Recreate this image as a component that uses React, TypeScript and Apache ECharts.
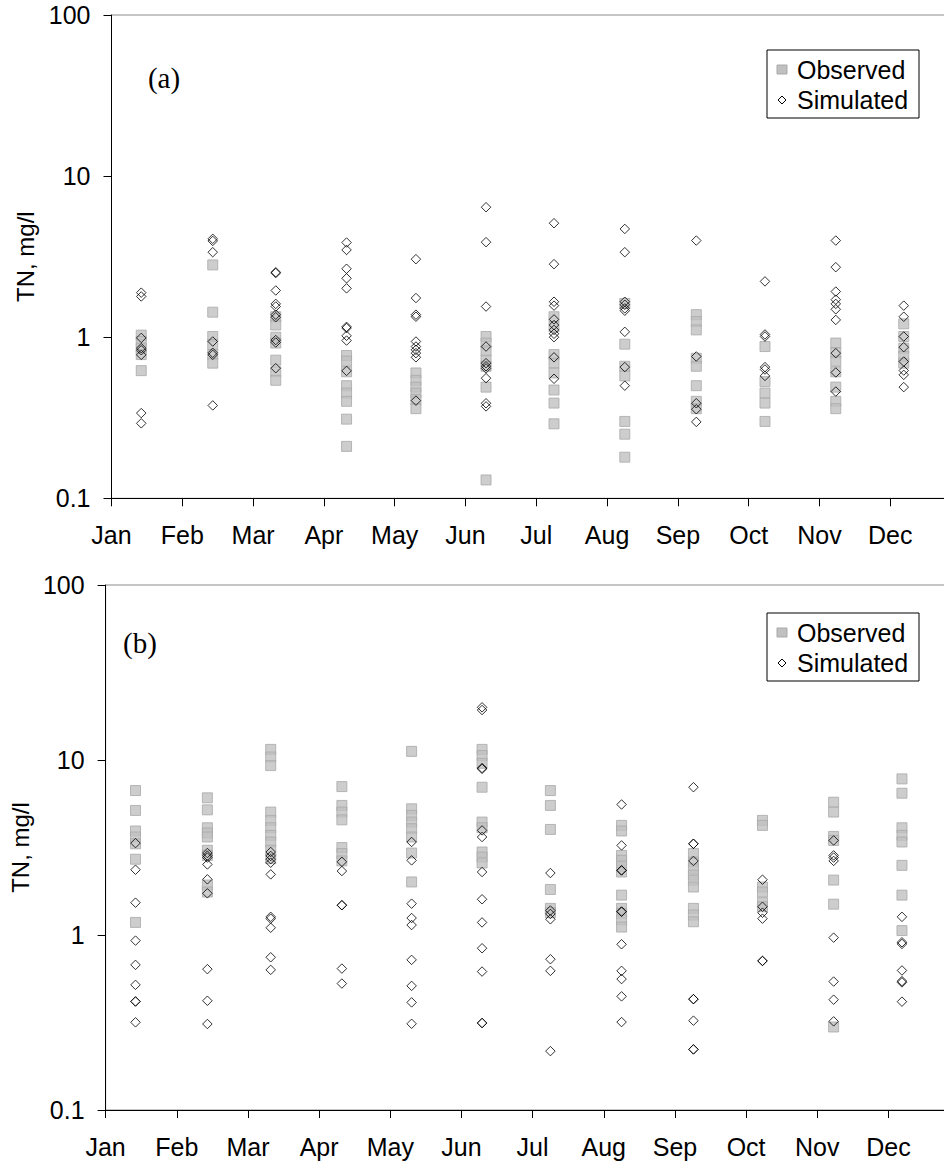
import React, { useEffect, useRef } from "react";
import * as echarts from "echarts";

// ---------- data ----------
const months = ["Jan", "Feb", "Mar", "Apr", "May", "Jun", "Jul", "Aug", "Sep", "Oct", "Nov", "Dec"];
// sampling position of each month's values, in month units from Jan 1
const sampleMonthPos = [0.42, 1.43, 2.32, 3.32, 4.3, 5.29, 6.25, 7.25, 8.26, 9.23, 10.23, 11.19];
const yTicks = [0.1, 1, 10, 100];

// panel (a)
const observedA = [
  [1.03, 0.94, 0.855, 0.78, 0.62],
  [2.81, 1.43, 1.01, 0.9, 0.78, 0.69],
  [1.34, 1.19, 1.0, 0.92, 0.72, 0.61, 0.54],
  [0.77, 0.71, 0.61, 0.5, 0.45, 0.4, 0.31, 0.21],
  [0.6, 0.54, 0.49, 0.45, 0.41, 0.36],
  [1.01, 0.92, 0.82, 0.72, 0.66, 0.49, 0.13],
  [1.34, 1.16, 0.78, 0.69, 0.6, 0.47, 0.39, 0.29],
  [1.62, 0.905, 0.66, 0.575, 0.3, 0.25, 0.18],
  [1.38, 1.25, 1.11, 0.74, 0.66, 0.5, 0.4, 0.36],
  [0.875, 0.53, 0.45, 0.39, 0.3],
  [0.92, 0.8, 0.71, 0.61, 0.49, 0.4, 0.36],
  [1.21, 1.01, 0.855, 0.76, 0.69],
];
const simulatedA = [
  [1.89, 1.79, 0.99, 0.855, 0.83, 0.777, 0.338, 0.292],
  [4.08, 3.96, 3.37, 0.94, 0.8, 0.777, 0.377],
  [2.53, 2.5, 1.95, 1.61, 1.55, 1.38, 1.33, 0.96, 0.927, 0.642],
  [3.87, 3.48, 2.66, 2.32, 2.01, 1.16, 1.14, 1.02, 0.953, 0.618],
  [3.05, 1.75, 1.38, 1.34, 0.94, 0.875, 0.835, 0.796, 0.75, 0.404],
  [6.41, 3.89, 1.55, 0.875, 0.69, 0.66, 0.64, 0.557, 0.389, 0.372],
  [5.1, 2.84, 1.66, 1.57, 1.29, 1.19, 1.11, 1.05, 1.0, 0.75, 0.552],
  [4.7, 3.37, 1.66, 1.59, 1.51, 1.46, 1.08, 0.652, 0.5],
  [3.98, 0.759, 0.389, 0.357, 0.298],
  [2.22, 1.04, 1.01, 0.652, 0.63, 0.575],
  [3.98, 2.72, 1.92, 1.71, 1.61, 1.49, 1.28, 0.796, 0.604, 0.46],
  [1.57, 1.34, 1.01, 0.867, 0.706, 0.621, 0.584, 0.49],
];

// panel (b)
const observedB = [
  [6.69, 5.15, 3.93, 3.63, 3.32, 2.71, 1.18],
  [6.08, 5.19, 4.1, 3.83, 3.63, 3.05, 2.85, 1.93, 1.76],
  [11.5, 10.4, 9.29, 5.04, 4.52, 4.1, 3.71, 3.4, 3.05, 2.73],
  [7.05, 5.5, 5.04, 4.55, 3.16, 2.92, 2.65],
  [11.2, 5.26, 4.82, 4.42, 4.05, 3.63, 2.94, 2.01],
  [11.5, 10.6, 9.57, 6.99, 4.42, 4.1, 2.98, 2.79, 2.58],
  [6.69, 5.5, 4.01, 1.82, 1.42, 1.34],
  [4.23, 3.93, 2.85, 2.67, 2.47, 2.29, 1.69, 1.42, 1.33, 1.22, 1.11],
  [2.92, 2.61, 2.39, 2.2, 2.06, 1.88, 1.42, 1.3, 1.19],
  [4.52, 4.23, 1.88, 1.76, 1.53, 1.45],
  [5.74, 5.04, 3.66, 3.47, 2.06, 1.5, 0.298],
  [7.8, 6.46, 4.1, 3.71, 3.4, 2.5, 1.69, 1.06],
];
const simulatedB = [
  [3.35, 2.36, 1.53, 0.929, 0.675, 0.519, 0.417, 0.417, 0.317],
  [2.94, 2.84, 2.77, 2.53, 2.08, 1.73, 0.638, 0.421, 0.31],
  [2.98, 2.83, 2.71, 2.59, 2.22, 1.27, 1.24, 1.1, 0.746, 0.632],
  [2.62, 2.32, 1.48, 1.48, 0.643, 0.528],
  [3.4, 2.67, 1.51, 1.25, 1.14, 0.721, 0.512, 0.412, 0.311],
  [20.0, 19.3, 9.0, 8.9, 3.96, 3.63, 2.29, 1.6, 1.18, 0.84, 0.618, 0.314, 0.314],
  [2.26, 1.38, 1.32, 1.23, 0.727, 0.624, 0.217],
  [5.57, 3.25, 2.34, 2.34, 1.36, 1.36, 0.885, 0.624, 0.56, 0.446, 0.318],
  [6.99, 3.32, 3.32, 2.65, 0.43, 0.43, 0.324, 0.222, 0.222],
  [2.07, 1.45, 1.34, 1.24, 0.711, 0.711],
  [3.47, 2.85, 2.77, 2.65, 0.966, 0.542, 0.427, 0.321],
  [1.27, 0.909, 0.889, 0.627, 0.545, 0.536, 0.416],
];

const panelLabels = ["(a)", "(b)"];
const legendNames = ["Observed", "Simulated"];

// ---------- helpers ----------
function toPoints(groups: number[][]) {
  const pts: number[][] = [];
  groups.forEach((vals, i) => vals.forEach((v) => pts.push([sampleMonthPos[i], v])));
  return pts;
}

function fmtY(v: number) {
  const match = yTicks.find((t) => Math.abs(Math.log10(t) - Math.log10(v)) < 1e-6);
  return match !== undefined ? String(match) : "";
}

const SANS = '"Liberation Sans", Arial, sans-serif';
const SERIF = '"Liberation Serif", "Times New Roman", serif';

const grids = [
  { left: 111.5, top: 15, width: 849.6, height: 483.3 },
  { left: 98, top: 585, width: 861.6, height: 525 },
];
const nameGaps = [68, 55];
const legendBoxes = [
  { x: 767, y: 50 },
  { x: 767, y: 613 },
];
const labelPos = [
  { x: 164, y: 78 },
  { x: 140, y: 643 },
];

function legendGraphic(x: number, y: number) {
  return {
    type: "group",
    children: [
      { type: "rect", shape: { x: x, y: y, width: 152, height: 68 }, style: { fill: "#fff", stroke: "#000", lineWidth: 1 } },
      { type: "rect", shape: { x: x + 10, y: y + 15, width: 10, height: 9 }, style: { fill: "#c0c0c0", stroke: "#a9a9a9", lineWidth: 1 } },
      {
        type: "polygon",
        shape: { points: [[x + 15, y + 46], [x + 19, y + 50], [x + 15, y + 54], [x + 11, y + 50]] },
        style: { fill: "#fff", stroke: "#000", lineWidth: 1 },
      },
      { type: "text", x: x + 30, y: y + 19.5, style: { text: legendNames[0], font: `25px ${SANS}`, fill: "#000", verticalAlign: "middle", align: "left" } },
      { type: "text", x: x + 30, y: y + 50, style: { text: legendNames[1], font: `25px ${SANS}`, fill: "#000", verticalAlign: "middle", align: "left" } },
    ],
  };
}

export default function App() {
  const ref = useRef<HTMLDivElement>(null);

  useEffect(() => {
    if (!ref.current) return;
    const chart = echarts.init(ref.current, null, { renderer: "svg" });

    const xAxis = grids.map((_, i) => ({
      type: "value",
      gridIndex: i,
      min: 0,
      max: 12,
      interval: 1,
      axisLine: { show: true, onZero: false, lineStyle: { color: "#000", width: 1 } },
      axisTick: { show: true, length: 8, lineStyle: { color: "#000", width: 1 } },
      axisLabel: {
        margin: 24,
        fontSize: 25,
        color: "#000",
        fontFamily: SANS,
        formatter: (v: number) => months[Math.round(v)] ?? "",
      },
      splitLine: { show: false },
    }));

    const yAxis = grids.map((_, i) => ({
      type: "log",
      logBase: 10,
      gridIndex: i,
      min: yTicks[0],
      max: yTicks[yTicks.length - 1],
      axisLine: { show: true, lineStyle: { color: "#000", width: 1 } },
      axisTick: { show: true, length: 8, lineStyle: { color: "#000", width: 1 } },
      minorTick: { show: false },
      axisLabel: { margin: 21, fontSize: 25, color: "#000", fontFamily: SANS, formatter: fmtY },
      splitLine: { show: false },
      name: "TN, mg/l",
      nameLocation: "middle",
      nameGap: nameGaps[i],
      nameTextStyle: { fontSize: 24, color: "#000", fontFamily: SANS },
    }));

    const obsStyle = { color: "#c0c0c0", borderColor: "#a9a9a9", borderWidth: 1 };
    const simStyle = { color: "rgba(255,255,255,0)", borderColor: "#000", borderWidth: 1 };

    const series: any[] = [];
    [
      [observedA, simulatedA],
      [observedB, simulatedB],
    ].forEach(([obs, sim], i) => {
      series.push({
        type: "scatter",
        name: legendNames[0],
        xAxisIndex: i,
        yAxisIndex: i,
        data: toPoints(obs),
        symbol: "rect",
        symbolSize: 10,
        itemStyle: obsStyle,
        emphasis: { disabled: true },
        z: 2,
      });
      series.push({
        type: "scatter",
        name: legendNames[1],
        xAxisIndex: i,
        yAxisIndex: i,
        data: toPoints(sim),
        symbol: "diamond",
        symbolSize: 9.5,
        itemStyle: simStyle,
        emphasis: { disabled: true },
        z: 3,
      });
    });

    const graphic: any[] = [];
    legendBoxes.forEach((b) => graphic.push(legendGraphic(b.x, b.y)));
    labelPos.forEach((p, i) =>
      graphic.push({
        type: "text",
        x: p.x,
        y: p.y,
        style: { text: panelLabels[i], font: `29px ${SERIF}`, fill: "#000", align: "center", verticalAlign: "middle" },
      })
    );

    chart.setOption({
      animation: false,
      backgroundColor: "#fff",
      grid: grids.map((g) => ({ ...g, show: true, borderColor: "#8c8c8c", borderWidth: 1, backgroundColor: "transparent" })),
      xAxis,
      yAxis,
      series,
      graphic,
      tooltip: { show: false },
    });

    return () => chart.dispose();
  }, []);

  return (
    <div style={{ position: "absolute", left: 0, top: 0, width: 944, height: 1164, overflow: "hidden", background: "#fff" }}>
      <div ref={ref} style={{ width: 980, height: 1164 }} />
    </div>
  );
}
